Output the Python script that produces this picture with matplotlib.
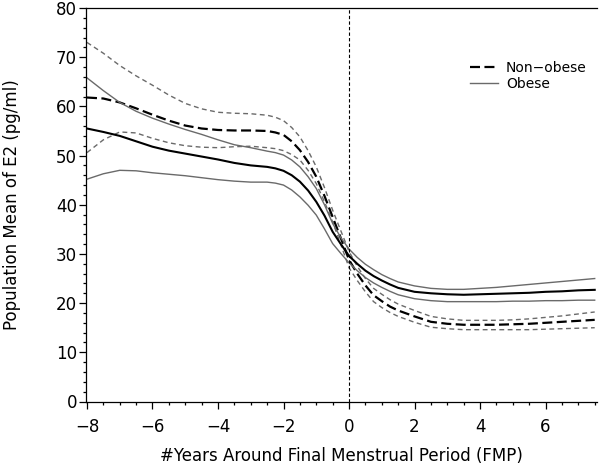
import matplotlib
matplotlib.use("Agg")
import matplotlib.pyplot as plt
from matplotlib.lines import Line2D
from matplotlib.ticker import MultipleLocator

# years around final menstrual period
years = [-8, -7.5, -7, -6.5, -6, -5.5, -5, -4.5, -4, -3.5, -3, -2.5, -2.25, -2,
         -1.75, -1.5, -1.25, -1, -0.75, -0.5, -0.25, 0, 0.25, 0.5, 0.75, 1, 1.25,
         1.5, 2, 2.5, 3, 3.5, 4, 4.5, 5, 5.5, 6, 6.5, 7, 7.5]

# non-obese: mean and 95% band
nonobese_mean = [61.8, 61.6, 60.8, 59.6, 58.3, 57.1, 56.1, 55.5, 55.2, 55.1, 55.1, 55.0, 54.7, 54.2,
                 52.9, 51.1, 48.7, 45.7, 41.8, 37.5, 33.2, 28.8, 26.0, 23.6, 21.6, 20.4, 19.3,
                 18.5, 17.3, 16.2, 15.8, 15.6, 15.6, 15.6, 15.7, 15.8, 16.0, 16.2, 16.4, 16.6]
nonobese_upper = [73.0, 70.8, 68.3, 66.2, 64.3, 62.3, 60.6, 59.5, 58.8, 58.6, 58.5, 58.2, 57.8, 57.1,
                  55.7, 53.8, 51.0, 47.7, 43.5, 38.9, 34.7, 30.5, 27.5, 25.0, 23.0, 21.8, 20.7,
                  19.8, 18.5, 17.3, 16.8, 16.5, 16.5, 16.5, 16.6, 16.8, 17.1, 17.4, 17.8, 18.2]
nonobese_lower = [50.6, 53.2, 54.8, 54.6, 53.5, 52.6, 52.0, 51.7, 51.6, 51.8, 51.9, 51.6, 51.4, 51.0,
                  50.2, 49.1, 47.0, 44.3, 40.6, 36.5, 31.9, 27.2, 24.6, 22.3, 20.3, 19.1, 18.1,
                  17.3, 16.1, 15.1, 14.8, 14.6, 14.6, 14.6, 14.6, 14.6, 14.7, 14.8, 14.9, 15.0]

# obese: mean and 95% band
obese_mean = [55.5, 54.8, 54.0, 52.9, 51.8, 51.0, 50.4, 49.8, 49.2, 48.5, 48.0, 47.7, 47.4, 46.9,
              46.0, 44.7, 42.9, 40.6, 37.8, 34.5, 32.0, 29.6, 28.0, 26.6, 25.5, 24.6, 23.8,
              23.1, 22.3, 22.0, 21.8, 21.7, 21.8, 21.9, 22.0, 22.1, 22.3, 22.4, 22.6, 22.7]
obese_upper = [65.8, 63.2, 60.8, 59.0, 57.6, 56.4, 55.3, 54.3, 53.2, 52.2, 51.6, 50.9, 50.6, 50.1,
               49.1, 47.7, 45.7, 43.3, 40.0, 36.2, 33.3, 31.0, 29.3, 27.9, 26.8, 25.8, 25.0,
               24.3, 23.5, 23.0, 22.8, 22.8, 23.0, 23.2, 23.5, 23.8, 24.1, 24.4, 24.7, 25.0]
obese_lower = [45.2, 46.3, 47.0, 46.9, 46.5, 46.2, 45.9, 45.5, 45.1, 44.8, 44.6, 44.6, 44.4, 44.0,
               43.0, 41.6, 39.9, 37.9, 35.1, 32.1, 30.1, 28.2, 26.6, 25.2, 24.1, 23.2, 22.4,
               21.7, 20.9, 20.5, 20.3, 20.3, 20.3, 20.3, 20.4, 20.4, 20.5, 20.5, 20.6, 20.6]

BAND_GRAY = "#6a6a6a"


def main():
    fig = plt.figure(figsize=(6.0, 4.68), dpi=100)
    ax = fig.add_axes([86 / 600, 1 - 401.5 / 468, 511 / 600, 393.5 / 468])

    # non-obese
    ax.plot(years, nonobese_upper, color=BAND_GRAY, lw=1.0, dashes=(3.5, 2.5))
    ax.plot(years, nonobese_lower, color=BAND_GRAY, lw=1.0, dashes=(3.5, 2.5))
    ax.plot(years, nonobese_mean, color="black", lw=1.6, dashes=(4.5, 2.0))

    # obese
    ax.plot(years, obese_upper, color=BAND_GRAY, lw=1.0)
    ax.plot(years, obese_lower, color=BAND_GRAY, lw=1.0)
    ax.plot(years, obese_mean, color="black", lw=1.5)

    ax.axvline(0, color="black", lw=0.8, dashes=(3, 2))

    ax.set_xlim(-8.03, 7.57)
    ax.set_ylim(0, 80)
    ax.xaxis.set_major_locator(MultipleLocator(2))
    ax.xaxis.set_minor_locator(MultipleLocator(0.5))
    ax.yaxis.set_major_locator(MultipleLocator(10))
    ax.yaxis.set_minor_locator(MultipleLocator(2))
    ax.tick_params(which="major", length=5, width=0.9, labelsize=12)
    ax.tick_params(which="minor", length=2.5, width=0.9)
    ax.tick_params(axis="x", which="major", pad=7)
    ax.tick_params(axis="y", which="major", pad=1.5)
    ax.spines["right"].set_visible(False)
    for side in ("left", "bottom", "top"):
        ax.spines[side].set_linewidth(0.9)

    ax.set_xlabel("#Years Around Final Menstrual Period (FMP)", fontsize=12)
    ax.set_ylabel("Population Mean of E2 (pg/ml)", fontsize=12)
    ax.xaxis.set_label_coords(0.5, -0.115)
    ax.yaxis.set_label_coords(-0.128, 0.5)

    handles = [
        Line2D([], [], color="black", lw=1.6, dashes=(4.5, 2.0)),
        Line2D([], [], color=BAND_GRAY, lw=1.0),
    ]
    ax.legend(handles, ["Non\u2212obese", "Obese"], loc="upper left",
              bbox_to_anchor=(0.751, 0.865), frameon=False, fontsize=10,
              handlelength=2.0, handletextpad=0.6, labelspacing=0.15,
              borderpad=0, borderaxespad=0)

    fig.savefig("out.png", dpi=100)
    plt.close(fig)


if __name__ == "__main__":
    main()
